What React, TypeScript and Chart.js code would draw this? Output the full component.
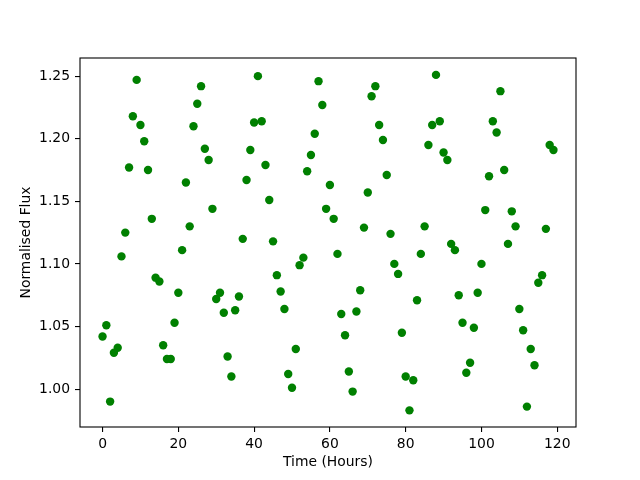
import { FC, ReactElement, useEffect, useRef } from 'react';
import { Chart, registerables, Plugin } from 'chart.js';

// Register Chart.js components
Chart.register(...registerables);

const hours: number[] = [
  0, 1, 2, 3, 4, 5, 6, 7, 8, 9, 10, 11, 12, 13, 14, 15, 16, 17, 18, 19,
  20, 21, 22, 23, 24, 25, 26, 27, 28, 29, 30, 31, 32, 33, 34, 35, 36, 37, 38, 39,
  40, 41, 42, 43, 44, 45, 46, 47, 48, 49, 50, 51, 52, 53, 54, 55, 56, 57, 58, 59,
  60, 61, 62, 63, 64, 65, 66, 67, 68, 69, 70, 71, 72, 73, 74, 75, 76, 77, 78, 79,
  80, 81, 82, 83, 84, 85, 86, 87, 88, 89, 90, 91, 92, 93, 94, 95, 96, 97, 98, 99,
  100, 101, 102, 103, 104, 105, 106, 107, 108, 109, 110, 111, 112, 113, 114, 115, 116, 117, 118, 119
];

const flux: number[] = [
  1.042, 1.051, 0.990, 1.029, 1.033, 1.106, 1.125, 1.177, 1.218, 1.247,
  1.211, 1.198, 1.175, 1.136, 1.089, 1.086, 1.035, 1.024, 1.024, 1.053,
  1.077, 1.111, 1.165, 1.130, 1.210, 1.228, 1.242, 1.192, 1.183, 1.144,
  1.072, 1.077, 1.061, 1.026, 1.010, 1.063, 1.074, 1.120, 1.167, 1.191,
  1.213, 1.250, 1.214, 1.179, 1.151, 1.118, 1.091, 1.078, 1.064, 1.012,
  1.001, 1.032, 1.099, 1.105, 1.174, 1.187, 1.204, 1.246, 1.227, 1.144,
  1.163, 1.136, 1.108, 1.060, 1.043, 1.014, 0.998, 1.062, 1.079, 1.129,
  1.157, 1.234, 1.242, 1.211, 1.199, 1.171, 1.124, 1.100, 1.092, 1.045,
  1.010, 0.983, 1.007, 1.071, 1.108, 1.130, 1.195, 1.211, 1.251, 1.214,
  1.189, 1.183, 1.116, 1.111, 1.075, 1.053, 1.013, 1.021, 1.049, 1.077,
  1.100, 1.143, 1.170, 1.214, 1.205, 1.238, 1.175, 1.116, 1.142, 1.130,
  1.064, 1.047, 0.986, 1.032, 1.019, 1.085, 1.091, 1.128, 1.195, 1.191
];

const xTicks: number[] = [0, 20, 40, 60, 80, 100, 120];
const yTicks: number[] = [1.0, 1.05, 1.1, 1.15, 1.2, 1.25];

const FONT = { family: "'DejaVu Sans', sans-serif", size: 13.9 };

// draws the full matplotlib-style box around the plot area
const framePlugin: Plugin<'scatter'> = {
  id: 'frame',
  afterDraw: (chart) => {
    const { ctx, chartArea } = chart;
    ctx.save();
    ctx.strokeStyle = '#000';
    ctx.lineWidth = 1.1;
    ctx.strokeRect(chartArea.left, chartArea.top, chartArea.right - chartArea.left, chartArea.bottom - chartArea.top);
    ctx.restore();
  }
};

const ScatterChart: FC = (): ReactElement => {
  const chartRef = useRef<HTMLCanvasElement | null>(null);
  const chartInstance = useRef<Chart<'scatter'> | null>(null);

  useEffect(() => {
    if (!chartRef.current) return;
    const ctx = chartRef.current.getContext('2d') as CanvasRenderingContext2D;

    if (chartInstance.current) {
      chartInstance.current.destroy();
    }

    chartInstance.current = new Chart(ctx, {
      type: 'scatter',
      data: {
        datasets: [
          {
            data: hours.map((h, i) => ({ x: h, y: flux[i] })),
            backgroundColor: '#008000',
            borderWidth: 0,
            pointRadius: 4.2,
            pointHoverRadius: 4.2
          }
        ]
      },
      plugins: [framePlugin],
      options: {
        responsive: false,
        animation: false,
        layout: { padding: { left: 0, top: 58, right: 64, bottom: 0 } },
        plugins: {
          legend: { display: false },
          tooltip: { enabled: false }
        },
        scales: {
          x: {
            type: 'linear',
            min: -5.95,
            max: 124.95,
            border: { display: false },
            grid: {
              drawOnChartArea: false,
              drawTicks: true,
              tickLength: 5,
              color: '#000',
              lineWidth: 1.1
            },
            ticks: {
              color: '#000',
              font: FONT,
              padding: 4,
              maxRotation: 0,
              callback: (v) => String(v)
            },
            title: {
              display: true,
              text: 'Time (Hours)',
              color: '#000',
              font: FONT,
              padding: { top: 0, bottom: 9 }
            },
            afterBuildTicks: (scale) => {
              scale.ticks = xTicks.map((v) => ({ value: v }));
            },
            afterFit: (scale) => {
              scale.height = 53;
            }
          },
          y: {
            type: 'linear',
            min: 0.9697,
            max: 1.2645,
            border: { display: false },
            grid: {
              drawOnChartArea: false,
              drawTicks: true,
              tickLength: 5,
              color: '#000',
              lineWidth: 1.1
            },
            ticks: {
              color: '#000',
              font: FONT,
              padding: 5,
              callback: (v) => Number(v).toFixed(2)
            },
            title: {
              display: true,
              text: 'Normalised Flux',
              color: '#000',
              font: FONT,
              padding: { top: 18, bottom: 0 }
            },
            afterBuildTicks: (scale) => {
              scale.ticks = yTicks.map((v) => ({ value: v }));
            },
            afterFit: (scale) => {
              scale.width = 80;
            }
          }
        }
      }
    });

    // Cleanup function
    return () => {
      if (chartInstance.current) {
        chartInstance.current.destroy();
        chartInstance.current = null;
      }
    };
  }, []);

  return (
    <div style={{ position: 'fixed', left: 0, top: 0, width: 640, height: 480, background: '#fff' }}>
      <canvas ref={chartRef} width={640} height={480} />
    </div>
  );
};

export default function App(): ReactElement {
  return <ScatterChart />;
}
